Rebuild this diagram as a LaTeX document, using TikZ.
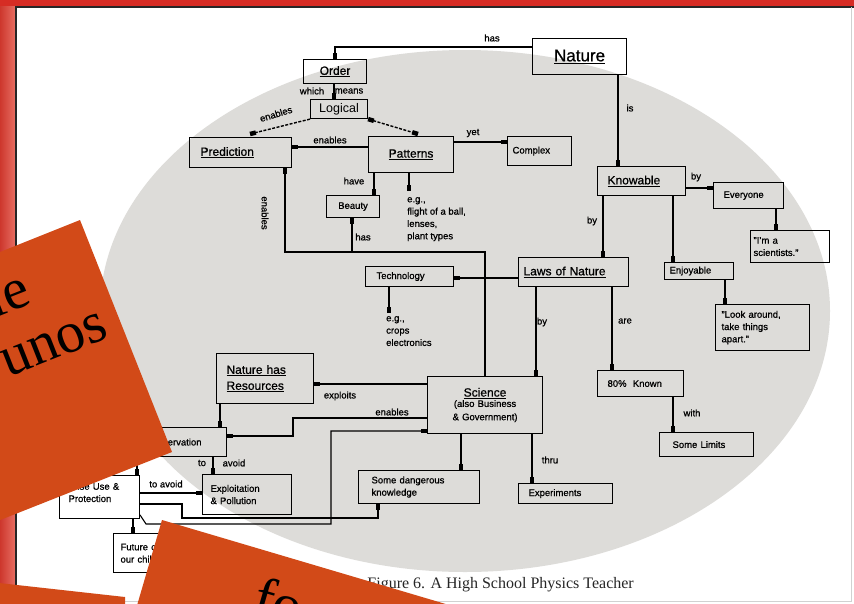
\documentclass[tikz,border=0pt]{standalone}
\usepackage{fontspec}
\setmainfont{Liberation Sans}[FakeBold=0.8]
\newfontfamily\lightsans{Liberation Sans}
\newfontfamily\capserif{Liberation Serif}
\usetikzlibrary{arrows.meta}
\newcommand\mysm{\fontsize{9.5}{12.3}\selectfont}
\newcommand\mymd{\fontsize{12}{16}\selectfont}
\newcommand\mybig{\fontsize{17}{20}\selectfont}
\definecolor{ellgrey}{RGB}{221,220,217}
\definecolor{slideorange}{RGB}{210,74,24}
\definecolor{slidered}{RGB}{214,44,36}
\begin{document}
\begin{tikzpicture}[x=1pt,y=-1pt,
  bx/.style={draw, line width=1.1pt, inner ysep=0pt, align=left, anchor=north west, font=\mysm},
  lb/.style={font=\mysm, inner sep=0.5pt},
  arr/.style={line width=1.1pt, -{Rectangle[length=6pt,width=4.5pt]}},
  arrb/.style={line width=1.1pt, {Rectangle[length=6pt,width=4.5pt]}-{Rectangle[length=6pt,width=4.5pt]}},
  dsh/.style={dash pattern=on 3pt off 1.5pt, line width=1.4pt},
  bigw/.style={font=\capserif\fontsize{58}{60}\selectfont, inner sep=0pt, text=black},
]
\useasboundingbox (0,0) rectangle (854,603);
\clip (0,0) rectangle (854,603);
% slide background
\shade[left color={rgb,255:red,205;green,55;blue,45}, right color={rgb,255:red,232;green,112;blue,100}] (0,0) rectangle (16,603);
\fill[slidered] (0,0) rectangle (854,6);
\fill[white] (16,7) rectangle (854,603);
\draw[line width=1.6pt, black!85] (16,603) -- (16,7) -- (854,7);
\draw[black!18, line width=1pt] (851,7) -- (851,601) -- (16,601);
% grey ellipse
\fill[ellgrey] (465,311) ellipse [x radius=365, y radius=261];

% ---- nodes ----
\node[bx, inner xsep=0pt, text width=94pt, align=center, minimum height=36pt, font=\mybig] (Nature) at (532,38) {\underline{Nature}};
\node[bx, inner xsep=0pt, text width=63pt, align=center, minimum height=24pt, font=\mymd] (Order) at (303,59) {\underline{Order}};
\node[bx, inner xsep=0pt, text width=57pt, align=center, minimum height=19pt, font=\lightsans\fontsize{12.5}{14}\selectfont] (Logical) at (310,99) {Logical};
\node[bx, inner xsep=11pt, text width=80pt, minimum height=30pt, font=\mymd] (Prediction) at (189,137) {\underline{Prediction}};
\node[bx, inner xsep=0pt, text width=85pt, align=center, minimum height=36pt, font=\mymd] (Patterns) at (368,136) {\underline{Patterns}};
\node[bx, inner xsep=5pt, text width=54pt, minimum height=29pt] (Complex) at (507,136) {Complex};
\node[bx, inner xsep=0pt, text width=53pt, align=center, minimum height=22pt] (Beauty) at (326,195) {Beauty};
\node[bx, inner xsep=10pt, text width=68pt, minimum height=29pt, font=\mymd] (Knowable) at (597,166) {\underline{Knowable}};
\node[bx, inner xsep=10pt, text width=50pt, minimum height=26pt] (Everyone) at (713,182) {Everyone};
\node[bx, inner xsep=3pt, text width=73pt, minimum height=32pt] (Imsci) at (750,230) {"I'm a\\scientists."};
\node[bx, inner xsep=5pt, text width=100pt, minimum height=29pt, font=\mymd] (Laws) at (518,257) {\underline{Laws of Nature}};
\node[bx, inner xsep=5pt, text width=59pt, minimum height=17pt] (Enjoyable) at (664,262) {Enjoyable};
\node[bx, inner xsep=11pt, text width=66pt, minimum height=20pt] (Technology) at (365,266) {Technology};
\node[bx, inner xsep=6pt, text width=82pt, minimum height=46pt] (Look) at (715,304) {"Look around,\\take things\\apart."};
\node[bx, inner xsep=10pt, text width=66pt, minimum height=26pt] (Known) at (597,370) {80\%~~Known};
\node[bx, inner xsep=13pt, text width=68pt, minimum height=24pt] (Limits) at (659,432) {Some Limits};
\node[bx, inner xsep=0pt, text width=115pt, align=center, minimum height=57pt] (Science) at (427,376) {{\mymd\underline{Science}}\\[-2pt](also Business\\[1pt]\& Government)};
\node[bx, inner xsep=10pt, text width=74pt, minimum height=20pt] (Experiments) at (518,483) {Experiments};
\node[bx, inner xsep=13pt, text width=95pt, minimum height=33pt] (Danger) at (358,470) {Some dangerous\\knowledge};
\node[bx, inner xsep=10pt, text width=77pt, minimum height=50pt, font=\mymd] (NHR) at (216,353) {\underline{Nature has}\\\underline{Resources}};
\node[bx, inner xsep=25pt, text width=61pt, align=right, minimum height=29pt] (Conservation) at (115,427) {Conservation};
\node[bx, inner xsep=8pt, text width=73pt, minimum height=40pt] (Exploitation) at (202,474) {Exploitation\\\& Pollution};
\node[bx, inner xsep=9pt, text width=62pt, minimum height=43pt] (Wise) at (59,475) {Wise Use \&\\Protection\\[-3pt]\mbox{}};
\node[bx, inner xsep=7pt, text width=61pt, minimum height=39pt] (Future) at (113,533) {Future of\\our children};

% free texts
\node[anchor=north west, align=left, font=\mysm, inner sep=0pt] (eg1) at (407,197) {e.g.,\\flight of a ball,\\lenses,\\plant types};
\node[anchor=north west, align=left, font=\mysm, inner sep=0pt] (eg2) at (386,316) {e.g.,\\crops\\electronics};

% ---- connectors ----
\draw[arr] (Nature.west |- 0,47) -- (335,47) -- (335,0 |- Order.north);
\draw[arr] (334,0 |- Order.south) -- (334,0 |- Logical.north);
\coordinate (predtop) at (250,134);
\coordinate (pattop) at (418,134);
\draw[arr, dsh] (Logical.south west) -- (predtop);
\draw[arrb, dsh] (Logical.south east) -- (pattop);
\draw[arr] (Patterns.west |- 0,147) -- (Prediction.east |- 0,147);
\draw[arr] (Patterns.east |- 0,142) -- (Complex.west |- 0,142);
\draw[arr] (374,0 |- Patterns.south) -- (374,0 |- Beauty.north);
\draw[arr] (409,0 |- Patterns.south) -- (409,191);
\draw[arr] (485,0 |- Science.north) -- (485,252) -- (285,252) -- (285,0 |- Prediction.south);
\draw[arr] (352,252) -- (352,0 |- Beauty.south);
\draw[arr] (618,0 |- Nature.south) -- (618,0 |- Knowable.north);
\draw[arr] (Knowable.east |- 0,188) -- (Everyone.west |- 0,188);
\draw[arr] (776,0 |- Everyone.south) -- (776,0 |- Imsci.north);
\draw[arr] (603,0 |- Knowable.south) -- (603,0 |- Laws.north);
\draw[arr] (673,0 |- Knowable.south) -- (673,0 |- Enjoyable.north);
\draw[arr] (725,0 |- Enjoyable.south) -- (725,0 |- Look.north);
\draw[arr] (Laws.west |- 0,278) -- (Technology.east |- 0,278);
\draw[arr] (389,0 |- Technology.south) -- (389,313);
\draw[arr] (536,0 |- Laws.south) -- (536,0 |- Science.north);
\draw[arr] (612,0 |- Laws.south) -- (612,0 |- Known.north);
\draw[arr] (673,0 |- Known.south) -- (673,0 |- Limits.north);
\draw[arr] (532,0 |- Science.south) -- (532,0 |- Experiments.north);
\draw[arr] (461,0 |- Science.south) -- (461,0 |- Danger.north);
\draw[arr] (Science.west |- 0,384) -- (NHR.east |- 0,384);
\draw[arr] (Science.west |- 0,418) -- (293,418) -- (293,436) -- (Conservation.east |- 0,436);
\draw[arr] (220,0 |- NHR.south) -- (220,0 |- Conservation.north);
\draw[arr] (213,0 |- Conservation.south) -- (213,0 |- Exploitation.north);
\draw[arr] (137,0 |- Conservation.south) -- (137,0 |- Wise.north);
\draw[arr] (Wise.east |- 0,493) -- (Exploitation.west |- 0,493);
\draw[arr] (Wise.east |- 0,504) -- (182,504) -- (182,518) -- (378,518) -- (378,0 |- Danger.south);
\draw[arr] (Wise.east |- 0,515) -- (146,524) -- (331,524) -- (331,431) -- (Science.west |- 0,431);
\draw[arr] (133,0 |- Wise.south) -- (133,0 |- Future.north);

% ---- labels ----
\node[lb] (l1) at (492,38) {has};
\node[lb] (l2) at (312,91) {which};
\node[lb] (l3) at (349,91) {means};
\node[lb, rotate=17] (l4) at (276,114) {enables};
\node[lb] (l5) at (330,140) {enables};
\node[lb] (l6) at (473,133) {yet};
\node[lb] (l7) at (354,181) {have};
\node[lb] (l8) at (363,237) {has};
\node[lb, rotate=-90] (l9) at (265,213) {enables};
\node[lb] (l10) at (630,108) {is};
\node[lb] (l11) at (696,177) {by};
\node[lb] (l12) at (592,221) {by};
\node[lb] (l13) at (542,322) {by};
\node[lb] (l14) at (625,321) {are};
\node[lb] (l15) at (692,413) {with};
\node[lb] (l16) at (550,460) {thru};
\node[lb] (l17) at (340,396) {exploits};
\node[lb] (l18) at (392,412) {enables};
\node[lb] (l19) at (202,463) {to};
\node[lb] (l20) at (234,463) {avoid};
\node[lb] (l21) at (166,484) {to avoid};

% caption
\node[font=\capserif\fontsize{16}{18}\selectfont, anchor=base east, text=black!85, inner sep=0pt] (cap) at (634,588) {Figure 6. A High School Physics Teacher};

% ---- overlapping orange cards ----
\fill[slideorange] (80,220) -- (172,452) -- (-20,528) -- (-20,260) -- cycle;
\node[bigw, rotate=21.6, anchor=base east] (w1) at (34,303) {le};
\node[bigw, rotate=21.6, anchor=base east] (w2) at (111,337) {unos};
\fill[slideorange] (162,520) -- (520,626) -- (131,626) -- cycle;
\node[bigw, rotate=-16, anchor=base west] (w3) at (250,614) {fo};
\fill[slideorange] (-10,582) -- (125,597) -- (125,610) -- (-10,610) -- cycle;
\end{tikzpicture}
\end{document}
